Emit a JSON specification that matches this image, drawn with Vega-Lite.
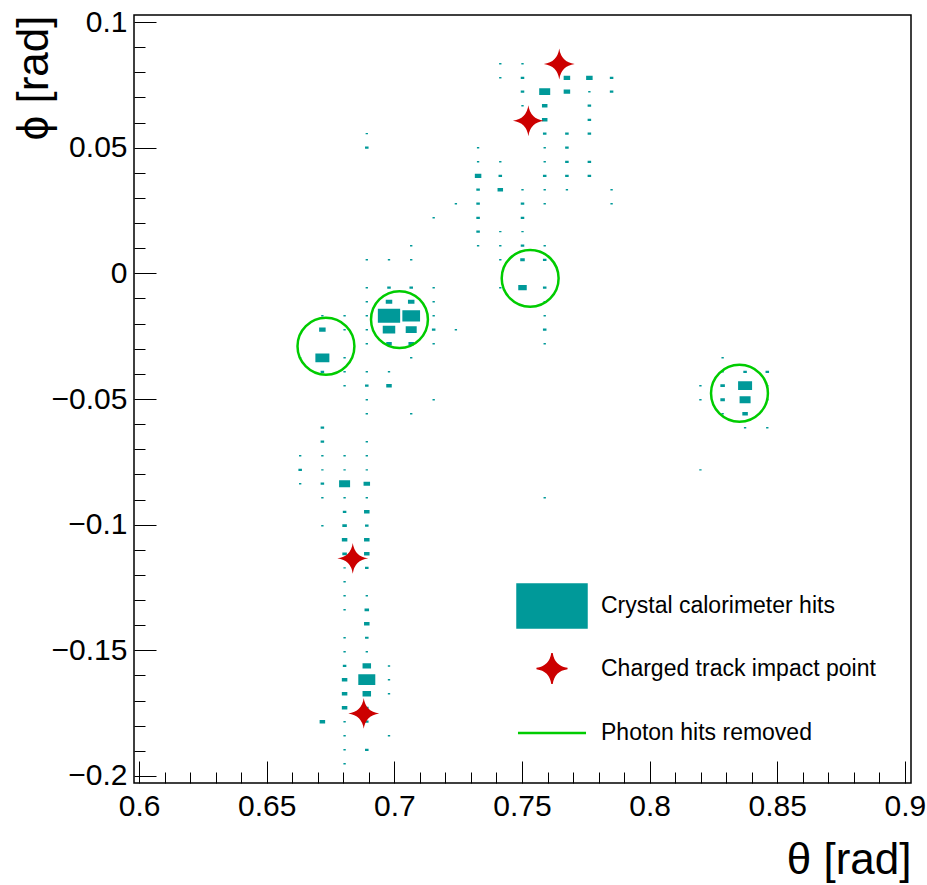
{
  "$schema": "https://vega.github.io/schema/vega-lite/v6.json",
  "width": 777,
  "height": 768,
  "autosize": {"type": "none"},
  "padding": {"left": 134, "top": 15, "right": 16, "bottom": 102},
  "background": "white",
  "config": {"view": {"stroke": "black", "strokeWidth": 1.5}, "font": "Liberation Sans"},
  "resolve": {"axis": {"x": "independent", "y": "independent"}},
  "datasets": {
    "hits": [
      {"theta":0.7415,"phi":0.0834,"energy":0.011},{"theta":0.7502,"phi":0.0834,"energy":0.011},
      {"theta":0.7415,"phi":0.0778,"energy":0.011},{"theta":0.7502,"phi":0.0778,"energy":0.025},{"theta":0.7676,"phi":0.0778,"energy":0.085},{"theta":0.7764,"phi":0.0778,"energy":0.085},{"theta":0.7851,"phi":0.0778,"energy":0.025},
      {"theta":0.7502,"phi":0.0723,"energy":0.025},{"theta":0.7589,"phi":0.0723,"energy":0.243},{"theta":0.7676,"phi":0.0723,"energy":0.085},{"theta":0.7764,"phi":0.0723,"energy":0.011},{"theta":0.7851,"phi":0.0723,"energy":0.025},
      {"theta":0.7502,"phi":0.0667,"energy":0.011},{"theta":0.7589,"phi":0.0667,"energy":0.061},{"theta":0.7764,"phi":0.0667,"energy":0.025},
      {"theta":0.7502,"phi":0.0611,"energy":0.011},{"theta":0.7589,"phi":0.0611,"energy":0.061},{"theta":0.7764,"phi":0.0611,"energy":0.025},
      {"theta":0.6892,"phi":0.0556,"energy":0.011},{"theta":0.7589,"phi":0.0556,"energy":0.025},{"theta":0.7676,"phi":0.0556,"energy":0.025},{"theta":0.7764,"phi":0.0556,"energy":0.025},
      {"theta":0.6892,"phi":0.0500,"energy":0.025},{"theta":0.7328,"phi":0.0500,"energy":0.011},{"theta":0.7589,"phi":0.0500,"energy":0.011},{"theta":0.7676,"phi":0.0500,"energy":0.025},
      {"theta":0.7328,"phi":0.0444,"energy":0.011},{"theta":0.7415,"phi":0.0444,"energy":0.011},{"theta":0.7589,"phi":0.0444,"energy":0.011},{"theta":0.7676,"phi":0.0444,"energy":0.025},{"theta":0.7764,"phi":0.0444,"energy":0.025},
      {"theta":0.7328,"phi":0.0388,"energy":0.085},{"theta":0.7415,"phi":0.0388,"energy":0.025},{"theta":0.7589,"phi":0.0388,"energy":0.025},{"theta":0.7676,"phi":0.0388,"energy":0.025},{"theta":0.7764,"phi":0.0388,"energy":0.025},
      {"theta":0.7328,"phi":0.0333,"energy":0.025},{"theta":0.7415,"phi":0.0333,"energy":0.061},{"theta":0.7502,"phi":0.0333,"energy":0.011},{"theta":0.7589,"phi":0.0333,"energy":0.011},{"theta":0.7676,"phi":0.0333,"energy":0.011},{"theta":0.7851,"phi":0.0333,"energy":0.011},
      {"theta":0.7241,"phi":0.0277,"energy":0.011},{"theta":0.7328,"phi":0.0277,"energy":0.025},{"theta":0.7502,"phi":0.0277,"energy":0.025},{"theta":0.7589,"phi":0.0277,"energy":0.011},{"theta":0.7851,"phi":0.0277,"energy":0.011},
      {"theta":0.7154,"phi":0.0221,"energy":0.011},{"theta":0.7328,"phi":0.0221,"energy":0.025},{"theta":0.7502,"phi":0.0221,"energy":0.025},
      {"theta":0.7328,"phi":0.0166,"energy":0.025},{"theta":0.7415,"phi":0.0166,"energy":0.011},{"theta":0.7502,"phi":0.0166,"energy":0.011},
      {"theta":0.7066,"phi":0.0110,"energy":0.011},{"theta":0.7328,"phi":0.0110,"energy":0.011},{"theta":0.7415,"phi":0.0110,"energy":0.011},{"theta":0.7502,"phi":0.0110,"energy":0.025},{"theta":0.7589,"phi":0.0110,"energy":0.011},
      {"theta":0.6892,"phi":0.0054,"energy":0.011},{"theta":0.6979,"phi":0.0054,"energy":0.011},{"theta":0.7066,"phi":0.0054,"energy":0.011},{"theta":0.7415,"phi":0.0054,"energy":0.011},{"theta":0.7502,"phi":0.0054,"energy":0.041},{"theta":0.7589,"phi":0.0054,"energy":0.025},
      {"theta":0.6892,"phi":-0.0057,"energy":0.011},{"theta":0.6979,"phi":-0.0057,"energy":0.025},{"theta":0.7066,"phi":-0.0057,"energy":0.025},{"theta":0.7154,"phi":-0.0057,"energy":0.011},{"theta":0.7415,"phi":-0.0057,"energy":0.011},{"theta":0.7502,"phi":-0.0057,"energy":0.145},{"theta":0.7589,"phi":-0.0057,"energy":0.025},
      {"theta":0.6892,"phi":-0.0113,"energy":0.011},{"theta":0.6979,"phi":-0.0113,"energy":0.085},{"theta":0.7066,"phi":-0.0113,"energy":0.085},{"theta":0.7154,"phi":-0.0113,"energy":0.011},{"theta":0.7589,"phi":-0.0113,"energy":0.011},
      {"theta":0.6718,"phi":-0.0169,"energy":0.011},{"theta":0.6805,"phi":-0.0169,"energy":0.011},{"theta":0.6892,"phi":-0.0169,"energy":0.011},{"theta":0.6979,"phi":-0.0169,"energy":1.0},{"theta":0.7066,"phi":-0.0169,"energy":0.63},{"theta":0.7154,"phi":-0.0169,"energy":0.011},{"theta":0.7589,"phi":-0.0169,"energy":0.011},
      {"theta":0.6718,"phi":-0.0224,"energy":0.085},{"theta":0.6805,"phi":-0.0224,"energy":0.011},{"theta":0.6892,"phi":-0.0224,"energy":0.011},{"theta":0.6979,"phi":-0.0224,"energy":0.314},{"theta":0.7066,"phi":-0.0224,"energy":0.243},{"theta":0.7154,"phi":-0.0224,"energy":0.025},{"theta":0.7241,"phi":-0.0224,"energy":0.011},{"theta":0.7589,"phi":-0.0224,"energy":0.025},
      {"theta":0.6892,"phi":-0.0280,"energy":0.011},{"theta":0.6979,"phi":-0.0280,"energy":0.061},{"theta":0.7066,"phi":-0.0280,"energy":0.061},{"theta":0.7154,"phi":-0.0280,"energy":0.011},{"theta":0.7589,"phi":-0.0280,"energy":0.011},
      {"theta":0.6631,"phi":-0.0336,"energy":0.011},{"theta":0.6718,"phi":-0.0336,"energy":0.394},{"theta":0.6805,"phi":-0.0336,"energy":0.011},{"theta":0.7066,"phi":-0.0336,"energy":0.011},{"theta":0.8286,"phi":-0.0336,"energy":0.011},
      {"theta":0.6718,"phi":-0.0392,"energy":0.025},{"theta":0.6805,"phi":-0.0392,"energy":0.011},{"theta":0.6892,"phi":-0.0392,"energy":0.011},{"theta":0.6979,"phi":-0.0392,"energy":0.011},{"theta":0.8286,"phi":-0.0392,"energy":0.011},{"theta":0.8374,"phi":-0.0392,"energy":0.025},{"theta":0.8461,"phi":-0.0392,"energy":0.025},
      {"theta":0.6805,"phi":-0.0447,"energy":0.011},{"theta":0.6892,"phi":-0.0447,"energy":0.025},{"theta":0.6979,"phi":-0.0447,"energy":0.061},{"theta":0.8199,"phi":-0.0447,"energy":0.011},{"theta":0.8286,"phi":-0.0447,"energy":0.041},{"theta":0.8374,"phi":-0.0447,"energy":0.394},{"theta":0.8461,"phi":-0.0447,"energy":0.011},
      {"theta":0.6892,"phi":-0.0503,"energy":0.011},{"theta":0.7154,"phi":-0.0503,"energy":0.011},{"theta":0.8199,"phi":-0.0503,"energy":0.011},{"theta":0.8286,"phi":-0.0503,"energy":0.041},{"theta":0.8374,"phi":-0.0503,"energy":0.243},{"theta":0.8461,"phi":-0.0503,"energy":0.011},
      {"theta":0.6892,"phi":-0.0559,"energy":0.011},{"theta":0.7066,"phi":-0.0559,"energy":0.011},{"theta":0.8286,"phi":-0.0559,"energy":0.011},{"theta":0.8374,"phi":-0.0559,"energy":0.061},
      {"theta":0.6718,"phi":-0.0614,"energy":0.025},{"theta":0.8374,"phi":-0.0614,"energy":0.011},{"theta":0.8461,"phi":-0.0614,"energy":0.011},
      {"theta":0.6718,"phi":-0.0670,"energy":0.025},{"theta":0.6892,"phi":-0.0670,"energy":0.011},
      {"theta":0.6631,"phi":-0.0726,"energy":0.011},{"theta":0.6718,"phi":-0.0726,"energy":0.011},{"theta":0.6805,"phi":-0.0726,"energy":0.011},{"theta":0.6892,"phi":-0.0726,"energy":0.011},
      {"theta":0.6631,"phi":-0.0782,"energy":0.025},{"theta":0.6718,"phi":-0.0782,"energy":0.011},{"theta":0.6805,"phi":-0.0782,"energy":0.011},{"theta":0.6892,"phi":-0.0782,"energy":0.011},{"theta":0.8199,"phi":-0.0782,"energy":0.011},
      {"theta":0.6631,"phi":-0.0837,"energy":0.011},{"theta":0.6718,"phi":-0.0837,"energy":0.025},{"theta":0.6805,"phi":-0.0837,"energy":0.243},{"theta":0.6892,"phi":-0.0837,"energy":0.085},
      {"theta":0.6718,"phi":-0.0893,"energy":0.011},{"theta":0.6805,"phi":-0.0893,"energy":0.011},{"theta":0.6892,"phi":-0.0893,"energy":0.011},{"theta":0.7589,"phi":-0.0893,"energy":0.011},
      {"theta":0.6805,"phi":-0.0949,"energy":0.025},{"theta":0.6892,"phi":-0.0949,"energy":0.061},
      {"theta":0.6718,"phi":-0.1004,"energy":0.011},{"theta":0.6805,"phi":-0.1004,"energy":0.041},{"theta":0.6892,"phi":-0.1004,"energy":0.025},
      {"theta":0.6805,"phi":-0.1060,"energy":0.061},{"theta":0.6892,"phi":-0.1060,"energy":0.061},
      {"theta":0.6805,"phi":-0.1116,"energy":0.041},{"theta":0.6892,"phi":-0.1116,"energy":0.061},
      {"theta":0.6805,"phi":-0.1172,"energy":0.011},{"theta":0.6892,"phi":-0.1172,"energy":0.025},
      {"theta":0.6805,"phi":-0.1227,"energy":0.011},
      {"theta":0.6805,"phi":-0.1283,"energy":0.011},{"theta":0.6892,"phi":-0.1283,"energy":0.011},
      {"theta":0.6805,"phi":-0.1339,"energy":0.011},{"theta":0.6892,"phi":-0.1339,"energy":0.041},
      {"theta":0.6892,"phi":-0.1394,"energy":0.061},
      {"theta":0.6805,"phi":-0.1450,"energy":0.011},{"theta":0.6892,"phi":-0.1450,"energy":0.025},
      {"theta":0.6805,"phi":-0.1506,"energy":0.011},{"theta":0.6892,"phi":-0.1506,"energy":0.011},
      {"theta":0.6805,"phi":-0.1562,"energy":0.025},{"theta":0.6892,"phi":-0.1562,"energy":0.145},{"theta":0.6979,"phi":-0.1562,"energy":0.011},
      {"theta":0.6805,"phi":-0.1617,"energy":0.061},{"theta":0.6892,"phi":-0.1617,"energy":0.581},{"theta":0.6979,"phi":-0.1617,"energy":0.011},
      {"theta":0.6805,"phi":-0.1673,"energy":0.061},{"theta":0.6892,"phi":-0.1673,"energy":0.145},{"theta":0.6979,"phi":-0.1673,"energy":0.011},
      {"theta":0.6805,"phi":-0.1729,"energy":0.061},{"theta":0.6892,"phi":-0.1729,"energy":0.025},
      {"theta":0.6718,"phi":-0.1784,"energy":0.061},{"theta":0.6805,"phi":-0.1784,"energy":0.011},{"theta":0.6892,"phi":-0.1784,"energy":0.025},
      {"theta":0.6805,"phi":-0.1840,"energy":0.011},{"theta":0.6979,"phi":-0.1840,"energy":0.011},
      {"theta":0.6805,"phi":-0.1896,"energy":0.011},{"theta":0.6892,"phi":-0.1896,"energy":0.025},
      {"theta":0.6805,"phi":-0.1951,"energy":0.011}
    ],
    "photons": [
      {"theta":0.6732,"phi":-0.0290},
      {"theta":0.7020,"phi":-0.0184},
      {"theta":0.7532,"phi":-0.0020},
      {"theta":0.8352,"phi":-0.0477}
    ],
    "tracks": [
      {"theta":0.7646,"phi":0.0833},
      {"theta":0.7525,"phi":0.0607},
      {"theta":0.6837,"phi":-0.1134},
      {"theta":0.6880,"phi":-0.1751}
    ]
  },
  "layer": [
    {
      "data": {"name": "hits"},
      "mark": {"type": "point", "filled": true, "strokeWidth": 0, "opacity": 1},
      "encoding": {
        "x": {
          "field": "theta", "type": "quantitative",
          "scale": {"domain": [0.598, 0.9024], "nice": false, "zero": false},
          "axis": {
            "orient": "bottom",
            "values": [0.6,0.65,0.7,0.75,0.8,0.85,0.9],
            "format": "~g",
            "tickSize": -22, "tickColor": "black", "tickWidth": 1,
            "domain": false, "grid": false,
            "labelFont": "Liberation Sans", "labelFontSize": 30, "labelColor": "black",
            "labelPadding": 30, "labelFlush": false, "labelOverlap": false,
            "title": "θ [rad]", "titleFont": "Liberation Sans", "titleFontSize": 44, "titleFontWeight": "normal", "titleColor": "black",
            "titleAnchor": "end", "titleAlign": "right", "titleBaseline": "bottom", "titleX": 777, "titleY": 99
          }
        },
        "y": {
          "field": "phi", "type": "quantitative",
          "scale": {"domain": [-0.2028, 0.1028], "nice": false, "zero": false},
          "axis": {
            "orient": "left",
            "values": [-0.2,-0.15,-0.1,-0.05,0,0.05,0.1],
            "format": "~g",
            "tickSize": -22, "tickColor": "black", "tickWidth": 1,
            "domain": false, "grid": false,
            "labelFont": "Liberation Sans", "labelFontSize": 30, "labelColor": "black",
            "labelPadding": 29, "labelFlush": false, "labelOverlap": false,
            "title": "ϕ [rad]", "titleFont": "Liberation Sans", "titleFontSize": 44, "titleFontWeight": "normal", "titleColor": "black",
            "titleAnchor": "end", "titleAlign": "right", "titleBaseline": "top", "titleAngle": 270, "titleX": -122, "titleY": 0
          }
        },
        "size": {"field": "energy", "type": "quantitative", "scale": {"type": "linear", "domain": [0, 1], "range": [0, 403], "zero": true}, "legend": null},
        "color": {
          "datum": "Crystal calorimeter hits",
          "scale": {"domain": ["Crystal calorimeter hits", "Charged track impact point", "Photon hits removed"], "range": ["#009999", "#cc0000", "#00cc00"]},
          "legend": {
            "title": null, "orient": "none", "legendX": 406.5, "legendY": 579.5, "direction": "vertical",
            "symbolSize": 3969, "labelFont": "Liberation Sans", "labelFontSize": 23, "labelColor": "black",
            "labelOffset": 37.5, "rowPadding": -6.5, "padding": 0, "labelLimit": 0,
            "encoding": {"symbols": {
              "fill": {"value": {"expr": "datum.value === 'Photon hits removed' ? 'transparent' : datum.value === 'Crystal calorimeter hits' ? '#009999' : '#cc0000'"}},
              "stroke": {"value": {"expr": "datum.value === 'Photon hits removed' ? '#00cc00' : datum.value === 'Crystal calorimeter hits' ? '#1a1a8c' : 'transparent'"}},
              "strokeWidth": {"value": {"expr": "datum.value === 'Photon hits removed' ? 2.5 : 1.5"}},
              "opacity": {"value": 1}
            }}
          }
        },
        "shape": {
          "datum": "Crystal calorimeter hits",
          "scale": {"domain": ["Crystal calorimeter hits", "Charged track impact point", "Photon hits removed"], "range": ["M-1.111,-0.7L1.111,-0.7L1.111,0.7L-1.111,0.7ZM0,-0.98L0,-0.98M0,0.98L0,0.98", "M0,-0.49Q0.06,-0.06 0.49,0Q0.06,0.06 0,0.49Q-0.06,0.06 -0.49,0Q-0.06,-0.06 0,-0.49ZM0,-0.98L0,-0.98M0,0.98L0,0.98", "M-1.08,0L1.08,0M0,-0.98L0,-0.98M0,0.98L0,0.98"]},
          "legend": {
            "title": null, "orient": "none", "legendX": 406.5, "legendY": 579.5, "direction": "vertical",
            "symbolSize": 3969, "labelFont": "Liberation Sans", "labelFontSize": 23, "labelColor": "black",
            "labelOffset": 37.5, "rowPadding": -6.5, "padding": 0, "labelLimit": 0,
            "encoding": {"symbols": {
              "fill": {"value": {"expr": "datum.value === 'Photon hits removed' ? 'transparent' : datum.value === 'Crystal calorimeter hits' ? '#009999' : '#cc0000'"}},
              "stroke": {"value": {"expr": "datum.value === 'Photon hits removed' ? '#00cc00' : datum.value === 'Crystal calorimeter hits' ? '#1a1a8c' : 'transparent'"}},
              "strokeWidth": {"value": {"expr": "datum.value === 'Photon hits removed' ? 2.5 : 1.5"}},
              "opacity": {"value": 1}
            }}
          }
        }
      }
    },
    {
      "data": {"name": "photons"},
      "mark": {"type": "point", "shape": "circle", "filled": false, "size": 3237, "strokeWidth": 2.5, "opacity": 1},
      "encoding": {
        "x": {
          "field": "theta", "type": "quantitative",
          "axis": {
            "orient": "bottom",
            "values": [0.61,0.62,0.63,0.64,0.66,0.67,0.68,0.69,0.71,0.72,0.73,0.74,0.76,0.77,0.78,0.79,0.81,0.82,0.83,0.84,0.86,0.87,0.88,0.89],
            "tickSize": -11, "tickColor": "black", "tickWidth": 1,
            "labels": false, "domain": false, "grid": false, "title": null
          }
        },
        "y": {
          "field": "phi", "type": "quantitative",
          "axis": {
            "orient": "left",
            "values": [-0.19,-0.18,-0.17,-0.16,-0.14,-0.13,-0.12,-0.11,-0.09,-0.08,-0.07,-0.06,-0.04,-0.03,-0.02,-0.01,0.01,0.02,0.03,0.04,0.06,0.07,0.08,0.09],
            "tickSize": -11, "tickColor": "black", "tickWidth": 1,
            "labels": false, "domain": false, "grid": false, "title": null
          }
        },
        "color": {"datum": "Photon hits removed", "legend": {"title": null}}
      }
    },
    {
      "data": {"name": "tracks"},
      "mark": {"type": "point", "filled": true, "size": 3969, "strokeWidth": 0, "opacity": 1},
      "encoding": {
        "x": {"field": "theta", "type": "quantitative", "axis": null},
        "y": {"field": "phi", "type": "quantitative", "axis": null},
        "color": {"datum": "Charged track impact point", "legend": {"title": null}},
        "shape": {"datum": "Charged track impact point", "legend": {"title": null}}
      }
    }
  ]
}
